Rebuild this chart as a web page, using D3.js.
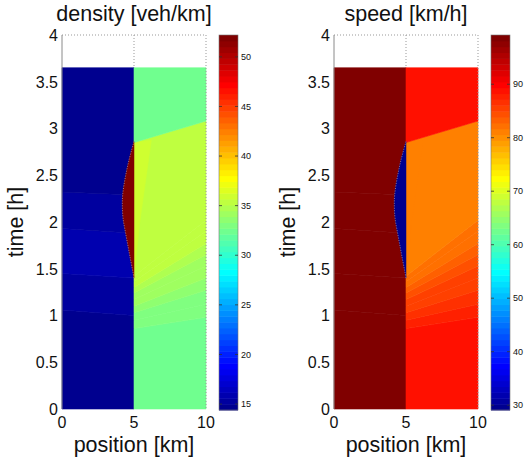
<!DOCTYPE html>
<html>
<head>
<meta charset="utf-8">
<script src="https://cdn.jsdelivr.net/npm/d3@7"></script>
<style>
  body { margin: 0; background: #fff; }
  text { font-family: "Liberation Sans", Arial, Helvetica, sans-serif; fill: #111; }
</style>
</head>
<body>
<svg id="chart" width="526" height="461"></svg>
<script>
// values (position in km, time in h)
const tEnd = 3.65;                        // data stops here, white above
const xTicks = [0, 5, 10];
const yTicks = [0, 0.5, 1, 1.5, 2, 2.5, 3, 3.5, 4];
const densityTicks = [15, 20, 25, 30, 35, 40, 45, 50];
const speedTicks = [30, 40, 50, 60, 70, 80, 90];
const densityRange = [14.4, 52.2];
const speedRange = [29.1, 99.2];

// upstream part (0..5 km): slanted bands, times at x=0 and at x=5
const upBreaksL = [1.06, 1.45, 1.93, 2.32];
const upBreaksR = [1.00, 1.40, 1.88, 2.29];
const upDensity = [14.9, 15.3, 16.0, 15.3, 14.9];
const upSpeed = [99, 98.9, 98.8, 98.9, 99];

// downstream fan (5..10 km): rays from x=5 (fanL) to x=10 (fanR)
const fanL = [0.86, 0.95, 1.03, 1.10, 1.17, 1.24, 1.30, 1.36, 1.42];
const fanR = [0.98, 1.12, 1.27, 1.40, 1.53, 1.65, 1.77, 1.90, 2.02];
const fanDensity = [32.4, 32.8, 33.2, 33.6, 34.0, 34.4, 34.8, 35.1, 35.4, 35.6];
const fanSpeed = [88.5, 87.6, 86.7, 85.8, 85.0, 84.2, 83.4, 82.7, 82.0, 81.6];

// front leaving the bottleneck, and the region behind it
const front = [[5, 2.85], [10, 3.08]];
const afterDensity = 32.5, afterSpeed = 88.3;

// light strip next to x=5
const strip = [[5, 1.42], [5, 2.85], [6.2, 2.875], [5.4, 2.0]];
const stripDensity = 36.1, stripSpeed = 80.9;

// congested lens left of x=5
const lens = [[5, 2.86], [4.65, 2.66], [4.40, 2.48], [4.22, 2.30], [4.19, 2.18], [4.24, 2.04],
  [4.42, 1.88], [4.60, 1.73], [4.77, 1.59], [4.92, 1.47], [5, 1.40]];
const lensDensity = 52.2, lensSpeed = 29.3;

// matlab jet, 64 colours
const jet = t => {
  const c = v => Math.round(255 * Math.max(0, Math.min(1, v)));
  return d3.rgb(c(1.5 - Math.abs(4 * t - 3)), c(1.5 - Math.abs(4 * t - 2)), c(1.5 - Math.abs(4 * t - 1))).formatHex();
};
const jet64 = d3.range(64).map(k => jet((k + 1) / 64));

const svg = d3.select('#chart');

const drawPanel = (offset, title, range, ticks, vals) => {
  const x = d3.scaleLinear().domain([0, 10]).range([62 + offset, 206 + offset]);
  const y = d3.scaleLinear().domain([0, 4]).range([409, 35]);
  const color = d3.scaleQuantize().domain(range).range(jet64);
  const g = svg.append('g');
  const line = d3.line().x(d => x(d[0])).y(d => y(d[1]));

  const poly = (pts, v) => {
    g.append('path')
      .attr('d', line.curve(d3.curveLinear)(pts) + 'Z')
      .attr('fill', color(v))
      .attr('stroke', color(v))
      .attr('stroke-width', 0.6);
  };

  // upstream bands
  const bl = [0, ...upBreaksL, tEnd], br = [0, ...upBreaksR, tEnd];
  for (let i = 0; i < bl.length - 1; i++) {
    poly([[0, bl[i]], [5, br[i]], [5, br[i + 1]], [0, bl[i + 1]]], vals.up[i]);
  }

  // downstream fan
  const fl = [0, ...fanL, front[0][1]], fr = [0, ...fanR, front[1][1]];
  for (let i = 0; i < fl.length - 1; i++) {
    poly([[5, fl[i]], [10, fr[i]], [10, fr[i + 1]], [5, fl[i + 1]]], vals.fan[i]);
  }
  poly(strip, vals.strip);
  poly([front[0], front[1], [10, tEnd], [5, tEnd]], vals.after);

  // lens
  g.append('path')
    .attr('d', line.curve(d3.curveCatmullRom)(lens) + 'Z')
    .attr('fill', color(vals.lens))
    .attr('stroke', color(vals.lens))
    .attr('stroke-width', 0.5);
  g.append('path')
    .attr('d', line.curve(d3.curveCatmullRom)(lens))
    .attr('fill', 'none')
    .attr('stroke', '#c8c8c8')
    .attr('stroke-width', 0.6)
    .attr('stroke-dasharray', '1,1.5');

  // grid / box
  const dotted = sel => sel.attr('stroke', '#999').attr('stroke-width', 1).attr('stroke-dasharray', '1,2');
  g.append('line').attr('x1', x(0)).attr('x2', x(10)).attr('y1', y(4)).attr('y2', y(4)).call(dotted);
  g.append('line').attr('x1', x(10)).attr('x2', x(10)).attr('y1', y(4)).attr('y2', y(0)).call(dotted);
  g.append('line').attr('x1', x(5)).attr('x2', x(5)).attr('y1', y(4)).attr('y2', y(tEnd)).call(dotted);
  g.append('line').attr('x1', x(0)).attr('x2', x(0)).attr('y1', y(4)).attr('y2', y(0))
    .attr('stroke', '#8a8a8a').attr('stroke-width', 1);

  // tick labels
  g.selectAll('.xt').data(xTicks).join('text')
    .attr('x', d => x(d)).attr('y', 428)
    .attr('text-anchor', 'middle').attr('font-size', 16).text(d => d);
  g.selectAll('.yt').data(yTicks).join('text')
    .attr('x', 58 + offset).attr('y', d => y(d)).attr('dy', '0.36em')
    .attr('text-anchor', 'end').attr('font-size', 16).text(d => d);

  // labels
  g.append('text').attr('x', (x(0) + x(10)) / 2).attr('y', 21)
    .attr('text-anchor', 'middle').attr('font-size', 21.5).text(title);
  g.append('text').attr('x', (x(0) + x(10)) / 2).attr('y', 452)
    .attr('text-anchor', 'middle').attr('font-size', 21.5).text('position [km]');
  g.append('text').attr('transform', `translate(${23 + offset},222) rotate(-90)`)
    .attr('text-anchor', 'middle').attr('font-size', 21.5).text('time [h]');

  // colorbar
  const cb = d3.scaleLinear().domain(range).range([410, 35]);
  const step = (range[1] - range[0]) / 64;
  const cx0 = 219 + offset, cx1 = 238 + offset;
  g.selectAll('.cb').data(d3.range(64)).join('rect')
    .attr('x', cx0).attr('width', cx1 - cx0)
    .attr('y', k => cb(range[0] + (k + 1) * step))
    .attr('height', k => cb(range[0] + k * step) - cb(range[0] + (k + 1) * step) + 0.5)
    .attr('fill', k => jet64[k]);
  g.append('rect').attr('x', cx0).attr('y', 35).attr('width', cx1 - cx0).attr('height', 375)
    .attr('fill', 'none').attr('stroke', '#777').attr('stroke-width', 0.6);
  ticks.forEach(v => {
    g.append('line').attr('x1', cx0).attr('x2', cx0 + 3).attr('y1', cb(v)).attr('y2', cb(v))
      .attr('stroke', '#333').attr('stroke-width', 0.8);
    g.append('line').attr('x1', cx1 - 3).attr('x2', cx1).attr('y1', cb(v)).attr('y2', cb(v))
      .attr('stroke', '#333').attr('stroke-width', 0.8);
  });
  g.selectAll('.cbt').data(ticks).join('text')
    .attr('x', cx1 + 3).attr('y', d => cb(d)).attr('dy', '0.36em')
    .attr('font-size', 9).text(d => d);
};

drawPanel(0, 'density [veh/km]', densityRange, densityTicks, {
  up: upDensity, fan: fanDensity, strip: stripDensity, after: afterDensity, lens: lensDensity
});
drawPanel(272, 'speed [km/h]', speedRange, speedTicks, {
  up: upSpeed, fan: fanSpeed, strip: stripSpeed, after: afterSpeed, lens: lensSpeed
});
</script>
</body>
</html>
